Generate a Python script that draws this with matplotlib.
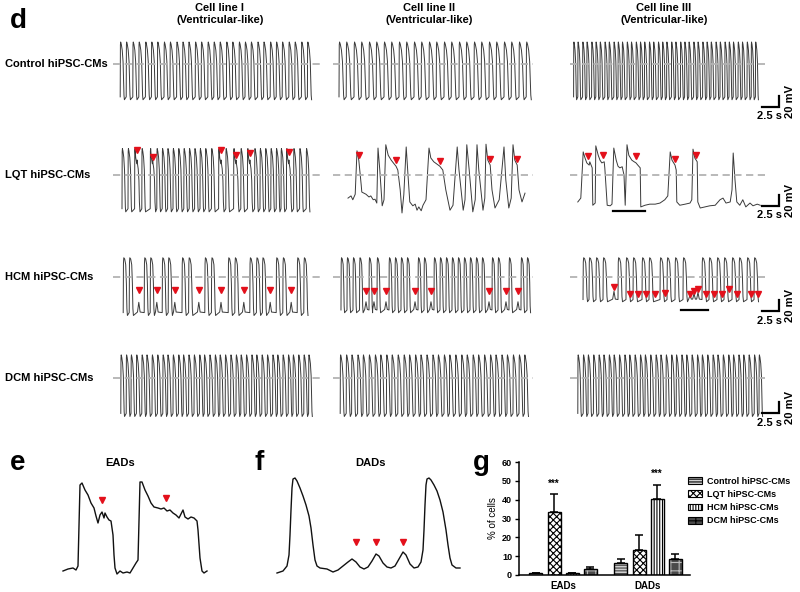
import matplotlib
matplotlib.use('Agg')
import matplotlib.pyplot as plt
import matplotlib.patches as mpatches
import numpy as np

plt.rcParams['font.family'] = ['Liberation Sans', 'DejaVu Sans']
plt.rcParams['font.weight'] = 'bold'
plt.rcParams['hatch.linewidth'] = 0.8

# Layout on the 800 x 592 canvas (pixels)
W, H = 800, 592
ROW_Y = [64, 175, 277, 378]                      # dashed reference line per row
COL_X = [(113, 320), (333, 533), (570, 767)]
PX_S, PX_MV = 6.0, 0.55                          # 2.5 s = 15 px, 20 mV = 11 px

TRACE = '#3a3a3a'
DASH = '#b3b3b3'
RED = '#e3101b'

ROW_LABELS = ['Control hiPSC-CMs', 'LQT hiPSC-CMs', 'HCM hiPSC-CMs', 'DCM hiPSC-CMs']
COL_TITLES = ['Cell line I\n(Ventricular-like)', 'Cell line II\n(Ventricular-like)',
              'Cell line III\n(Ventricular-like)']

# AP shapes: time in units of APD, voltage as fraction of [bottom, top]
AP_SHAPE = ([0, 0.05, 0.11, 0.26, 0.48, 0.68, 0.81, 0.9, 1.0],
            [0.05, 0.95, 1.0, 0.96, 0.86, 0.66, 0.33, 0.08, 0.0])
HCM_SHAPE = ([0, 0.06, 0.14, 0.35, 0.6, 0.76, 0.88, 1.0],
             [0.05, 0.9, 1.0, 0.98, 0.88, 0.55, 0.12, 0.0])
EAD_SHAPE = ([0, 0.03, 0.08, 0.18, 0.28, 0.36, 0.42, 0.48, 0.6, 0.72, 0.8, 0.9],
             [0.05, 0.96, 1.0, 0.86, 0.8, 0.76, 0.82, 0.76, 0.68, 0.5, 0.15, 0.0])

# --- beat onsets (s) ---
CTRL_I = [1.2, 2.2, 3.3, 4.3, 5.4, 6.4, 7.4, 8.5, 9.5, 10.6, 11.6, 12.6, 13.7, 14.7, 15.8,
          16.8, 17.8, 18.9, 19.9, 21.0, 22.0, 23.0, 24.1, 25.1, 26.2, 27.2, 28.2, 29.3,
          30.3, 31.4, 32.4]
CTRL_II = [1.0, 2.2, 3.5, 4.7, 6.0, 7.2, 8.5, 9.7, 11.0, 12.2, 13.5, 14.7, 16.0, 17.2,
           18.5, 19.7, 21.0, 22.2, 23.5, 24.7, 26.0, 27.2, 28.5, 29.7, 31.0, 32.2]
CTRL_III = [0.6, 1.3, 2.1, 2.8, 3.6, 4.3, 5.0, 5.8, 6.5, 7.3, 8.0, 8.7, 9.5, 10.2, 11.0,
            11.7, 12.4, 13.2, 13.9, 14.7, 15.4, 16.1, 16.9, 17.6, 18.4, 19.1, 19.8, 20.6,
            21.3, 22.1, 22.8, 23.5, 24.3, 25.0, 25.8, 26.5, 27.2, 28.0, 28.7, 29.5, 30.2, 30.9]

LQT_I = [1.5, 2.5, 4.8, 7.3, 8.2, 9.1, 10.0, 10.9, 11.8, 12.7, 13.6, 14.5, 15.4, 16.4,
         18.8, 21.3, 23.6, 24.5, 25.4, 26.3, 27.2, 28.0, 30.1, 31.1, 32.2]
LQT_I_EAD = [3.6, 6.2, 17.6, 20.1, 22.4, 28.9]
LQT_I_MARK = [(4.0, 45), (6.7, 33), (18.0, 45), (20.5, 36), (22.8, 40), (29.3, 42)]

LQT_II_T = [2.5, 3.0, 3.3, 3.7, 4.0, 4.3, 4.7, 4.8, 5.5, 6.0, 6.3, 6.7, 7.0, 7.3, 7.5, 7.8,
            8.2, 8.5, 8.8, 9.2, 9.7, 10.2, 10.5, 10.8, 11.2, 11.5, 11.8, 12.2, 12.5, 12.8,
            13.3, 13.7, 14.0, 14.3, 14.7, 15.0, 15.5, 16.0, 16.3, 16.8, 17.3, 17.8, 18.3,
            18.8, 19.5, 20.0, 20.7, 21.0, 21.7, 22.0, 22.3, 22.7, 23.3, 23.7, 24.0, 24.3,
            25.0, 25.3, 25.5, 25.8, 26.2, 26.5, 27.0, 27.7, 28.5, 28.8, 29.3, 29.7, 30.0,
            30.3, 30.7, 31.0, 31.5, 32.0]
LQT_II_V = [-42, -38, -45, -35, 44, 27, -18, -31, -35, -40, -38, -45, -44, -51, 49, 9,
            -56, -45, 55, 36, 27, 20, 16, 9, -27, -69, -36, 51, 0, -49,
            -56, -53, -64, -58, -65, -55, -45, 49, 31, 24, 20, 16, 9,
            -27, -64, -55, 51, 9, -64, -45, 55, 9, -67, -45, 55, 9,
            -64, -42, 56, 27, 18, -27, -60, -45, 51, -9, -60, -42, 55,
            27, 18, -27, -49, -33]
LQT_II_MARK = [(4.4, 36), (10.5, 28), (17.8, 26), (26.2, 29), (30.7, 29)]

LQT_III_T = [1.3, 1.8, 2.2, 2.5, 2.8, 3.2, 3.3, 3.7, 3.8, 4.2, 4.3, 4.7, 5.0, 5.3, 5.7,
             5.8, 6.2, 6.7, 7.0, 7.3, 7.7, 8.0, 8.3, 8.7, 9.0, 9.2, 9.5, 9.8, 10.3, 10.7,
             11.0, 11.3, 11.7, 11.8, 12.5, 13.3, 14.2, 15.0, 15.8, 16.3, 16.7, 17.0, 17.5,
             17.7, 17.8, 18.3, 19.2, 20.0, 20.3, 20.5, 20.8, 21.2, 21.3, 21.7, 22.5, 23.3,
             24.2, 25.0, 25.5, 26.0, 26.7, 27.0, 27.2, 27.5, 27.8, 28.3, 28.8, 29.3, 30.0,
             30.5, 31.2, 31.7]
LQT_III_V = [-49, -42, 42, 31, 22, 18, 24, 13, -55, -51, 53, 36, 27, 22, 24,
             13, -55, -56, -53, 49, 27, 16, 13, 15, 0, -55, 55, 36, 27, 24,
             22, 18, 13, -58, -55, -53, -53, -51, -45, -38, 42, 27, 18,
             9, -49, -55, -53, -51, -45, 47, 31, 24, -49, -60, -58, -56,
             -55, -45, -42, -51, -49, -27, 40, -9, -49, -55, -45, -58, -51,
             -56, -53, -55]
LQT_III_MARK = [(3.0, 34), (5.5, 36), (11.0, 34), (17.5, 30), (21.0, 36)]
LQT_III_SPAN = [7.2, 12.5, -65]

HCM_I = [1.7, 2.7, 5.2, 6.2, 8.2, 9.2, 11.5, 12.6, 15.3, 16.4, 19.2, 20.3, 22.8, 23.9,
         24.9, 27.2, 28.3, 30.7, 31.8]
HCM_I_DAD = [4.3, 7.3, 10.3, 14.3, 18.0, 21.8, 26.2, 29.7]
HCM_II = [1.33, 2.33, 3.33, 4.42, 6.0, 7.33, 9.33, 10.33, 11.33, 12.33, 14.17, 15.17,
          16.83, 17.83, 18.83, 19.83, 20.83, 21.83, 22.83, 23.83, 24.83, 26.5, 27.5,
          29.33, 31.33, 32.33]
HCM_II_DAD = [5.5, 6.83, 8.83, 13.67, 16.33, 26.0, 28.83, 30.83]
HCM_III = [2.17, 3.17, 4.33, 5.5, 8.0, 9.33, 10.5, 12.0, 13.17, 15.0, 16.17, 17.5, 18.83,
           22.0, 23.17, 24.5, 25.67, 27.0, 28.17, 29.5, 30.67]
HCM_III_DAD = [(7.33, -26), (20.0, -33), (20.67, -30), (21.33, -28)]
HCM_III_MARK = [(7.33, -18), (10.0, -31), (11.33, -31), (12.67, -31), (14.17, -31),
                (15.83, -29), (20.0, -31), (20.67, -25), (21.33, -22), (22.67, -31),
                (24.0, -31), (25.33, -31), (26.5, -22), (27.83, -31), (30.17, -31),
                (31.33, -31)]
HCM_III_SPAN = [18.5, 23.0, -60]

DCM_I = [1.3, 2.2, 3.0, 3.9, 4.8, 5.6, 6.5, 7.4, 8.3, 9.1, 10.0, 10.9, 11.7, 12.6, 13.5,
         14.4, 15.2, 16.1, 17.0, 17.8, 18.7, 19.6, 20.5, 21.3, 22.2, 23.1, 23.9, 24.8,
         25.7, 26.6, 27.4, 28.3, 29.2, 30.0, 30.9, 31.8, 32.6]
DCM_II = [1.2, 2.2, 3.1, 4.1, 5.0, 6.0, 7.0, 7.9, 8.9, 9.8, 10.8, 11.8, 12.7, 13.7, 14.6,
          15.6, 16.6, 17.5, 18.5, 19.4, 20.4, 21.4, 22.3, 23.3, 24.2, 25.2, 26.2, 27.1,
          28.1, 29.0, 30.0, 31.0, 31.9]
DCM_III = [1.3, 2.2, 3.0, 3.9, 4.8, 5.6, 6.5, 7.3, 8.2, 9.1, 9.9, 10.8, 11.7, 12.5, 13.4,
           14.3, 15.1, 16.0, 16.9, 17.7, 18.6, 19.4, 20.3, 21.2, 22.0, 22.9, 23.8, 24.6,
           25.5, 26.4, 27.2, 28.1, 28.9, 29.8, 30.7, 31.5]

SCALE_MV = [-78, -56, -62, -64]   # level of the 2.5 s bar in each row

# --- panels e / f (time s, mV) ---
EAD_T = [0.08, 0.13, 0.18, 0.21, 0.23, 0.25, 0.27, 0.30, 0.33, 0.36, 0.39, 0.41, 0.43,
         0.45, 0.47, 0.49, 0.50, 0.52, 0.54, 0.56, 0.58, 0.59, 0.60, 0.62, 0.65, 0.68,
         0.72, 0.75, 0.78, 0.81, 0.83, 0.85, 0.87, 0.90, 0.93, 0.96, 0.99, 1.03, 1.06,
         1.09, 1.12, 1.15, 1.18, 1.21, 1.24, 1.26, 1.28, 1.30, 1.33, 1.36, 1.39, 1.42,
         1.43, 1.45, 1.47, 1.49, 1.52]
EAD_V = [-71, -69, -68, -70, -66, 15, 17, 10, 5, -3, -8, -16, -23,
         -15, -12, -18, -13, -17, -20, -21, -35, -55, -68, -74, -71, -73,
         -72, -73, -68, -63, -60, 18, 18, 10, 4, -3, -7, -8, -9,
         -8, -11, -10, -13, -15, -18, -14, -10, -17, -19, -17, -18, -21,
         -30, -58, -71, -73, -71]
EAD_MARK = [(0.47, 0), (1.11, 2)]

DAD_T = [0.07, 0.13, 0.17, 0.19, 0.20, 0.21, 0.22, 0.23, 0.25, 0.27, 0.30, 0.33, 0.36,
         0.39, 0.41, 0.43, 0.45, 0.47, 0.50, 0.57, 0.63, 0.68, 0.73, 0.78, 0.82, 0.86,
         0.90, 0.94, 0.98, 1.02, 1.06, 1.09, 1.13, 1.17, 1.21, 1.25, 1.29, 1.33, 1.36,
         1.40, 1.44, 1.48, 1.51, 1.53, 1.54, 1.55, 1.56, 1.57, 1.59, 1.61, 1.64, 1.67,
         1.70, 1.73, 1.76, 1.78, 1.80, 1.82, 1.86, 1.90]
DAD_V = [-73, -71, -66, -55, -35, -10, 12, 21, 22, 19, 12, 4, -5,
         -16, -28, -45, -60, -66, -68, -69, -72, -70, -66, -62, -59, -62,
         -67, -69, -67, -61, -54, -56, -63, -67, -68, -66, -59, -52, -55,
         -64, -68, -67, -62, -50, -30, -5, 15, 21, 22, 20, 15, 9,
         0, -12, -30, -45, -58, -65, -68, -68]
DAD_MARK = [(0.86, -42), (1.06, -42), (1.33, -42)]

# --- panel g ---
GROUPS = ['EADs', 'DADs']
SERIES = ['Control hiPSC-CMs', 'LQT hiPSC-CMs', 'HCM hiPSC-CMs', 'DCM hiPSC-CMs']
EADS_MEAN = [0.8, 33.5, 0.8, 3.0]
EADS_SEM = [0.3, 9.5, 0.2, 1.5]
DADS_MEAN = [6.3, 13.5, 40.5, 8.7]
DADS_SEM = [2.0, 8.0, 7.5, 2.7]
STARS = [(1, 0, 45.5), (2, 1, 51.0)]   # (series, group, height)


def px_axes(fig, left, top, right, bottom):
    return fig.add_axes([left / W, 1 - bottom / H, (right - left) / W, (bottom - top) / H])


def build(groups, top, bottom, dads=()):
    """Place AP shapes at each onset; add small DAD bumps in diastole."""
    pts = []
    for onsets, apd, (st, sv) in groups:
        for t0 in onsets:
            pts += [(t0 + a * apd, bottom + b * (top - bottom)) for a, b in zip(st, sv)]
    base = bottom + 0.06 * (top - bottom)
    for td, peak in dads:
        pts += [(td - 0.22, base), (td, peak), (td + 0.22, base)]
    pts.sort()
    t, v = zip(*pts)
    return np.array(t), np.array(v)


traces = {
    (0, 0): (build([(CTRL_I, 0.7, AP_SHAPE)], 40, -65), []),
    (0, 1): (build([(CTRL_II, 0.85, AP_SHAPE)], 40, -65), []),
    (0, 2): (build([(CTRL_III, 0.5, AP_SHAPE)], 40, -65), []),
    (1, 0): (build([(LQT_I, 0.62, AP_SHAPE), (LQT_I_EAD, 1.0, EAD_SHAPE)], 48, -67), LQT_I_MARK),
    (1, 1): ((np.array(LQT_II_T), np.array(LQT_II_V)), LQT_II_MARK),
    (1, 2): ((np.array(LQT_III_T), np.array(LQT_III_V)), LQT_III_MARK),
    (2, 0): (build([(HCM_I, 0.7, HCM_SHAPE)], 35, -70, [(d, -46) for d in HCM_I_DAD]),
             [(d, -24) for d in HCM_I_DAD]),
    (2, 1): (build([(HCM_II, 0.6, HCM_SHAPE)], 35, -65, [(d, -45) for d in HCM_II_DAD]),
             [(d, -25) for d in HCM_II_DAD]),
    (2, 2): (build([(HCM_III, 0.75, HCM_SHAPE)], 35, -45, HCM_III_DAD), HCM_III_MARK),
    (3, 0): (build([(DCM_I, 0.62, AP_SHAPE)], 42, -70), []),
    (3, 1): (build([(DCM_II, 0.68, AP_SHAPE)], 42, -70), []),
    (3, 2): (build([(DCM_III, 0.6, AP_SHAPE)], 42, -70), []),
}

fig = plt.figure(figsize=(8, 5.92), dpi=100)

# ---- panel d ----
fig.text(10 / W, 1 - 28 / H, 'd', fontsize=20, va='baseline')
for c, (x0, x1) in enumerate(COL_X):
    fig.text((x0 + x1) / 2 / W + (0.004 if c == 0 else -0.005 if c == 1 else -0.006),
             1 - 3 / H, COL_TITLES[c], ha='center', va='top', fontsize=8, linespacing=1.3)

for r, y0 in enumerate(ROW_Y):
    fig.text(5 / W, 1 - y0 / H, ROW_LABELS[r], va='center', fontsize=8)
    for c, (x0, x1) in enumerate(COL_X):
        ax = px_axes(fig, x0, y0 - 70, x1, y0 + 70)
        ax.set_xlim(0, (x1 - x0) / PX_S)
        ax.set_ylim(-70 / PX_MV, 70 / PX_MV)
        ax.axis('off')
        (t, v), marks = traces[(r, c)]
        ax.plot(t, v, color=TRACE, lw=0.7, solid_joinstyle='round')
        ax.axhline(0, color=DASH, lw=1.3, ls=(0, (4, 2.5)), zorder=3)
        if marks:
            mt, mv = zip(*marks)
            ax.plot(mt, mv, 'v', color=RED, ms=4.5, mec=RED, zorder=4, clip_on=False)
        if c == 2:
            lvl = SCALE_MV[r]
            ax.plot([32.0, 34.5], [lvl, lvl], color='k', lw=1.6, clip_on=False)
            ax.plot([34.85, 34.85], [lvl, lvl + 20], color='k', lw=1.6, clip_on=False)
            ax.text(36.7, lvl + 10, '20 mV', rotation=90, ha='center', va='center',
                    fontsize=8, clip_on=False)
            ax.text(33.25, lvl - 8, '2.5 s', ha='center', va='top', fontsize=8, clip_on=False)
            span = LQT_III_SPAN if r == 1 else HCM_III_SPAN if r == 2 else None
            if span:
                ax.plot(span[:2], [span[2], span[2]], color='k', lw=1.6)

# ---- panel e ----
fig.text(10 / W, 1 - 470 / H, 'e', fontsize=20, va='baseline')
fig.text(120 / W, 1 - 463 / H, 'EADs', ha='center', va='center', fontsize=8)
ax = px_axes(fig, 55, 470, 215, 580)
ax.set_xlim(0, 1.6)
ax.set_ylim(-80, 30)
ax.axis('off')
ax.plot(EAD_T, EAD_V, color='#111111', lw=1.0)
mt, mv = zip(*EAD_MARK)
ax.plot(mt, mv, 'v', color=RED, ms=4.5, mec=RED)

# ---- panel f ----
fig.text(255 / W, 1 - 470 / H, 'f', fontsize=20, va='baseline')
fig.text(371 / W, 1 - 463 / H, 'DADs', ha='center', va='center', fontsize=8)
ax = px_axes(fig, 270, 470, 465, 580)
ax.set_xlim(0, 1.95)
ax.set_ylim(-80, 30)
ax.axis('off')
ax.plot(DAD_T, DAD_V, color='#111111', lw=1.0)
mt, mv = zip(*DAD_MARK)
ax.plot(mt, mv, 'v', color=RED, ms=4.5, mec=RED)

# ---- panel g ----
fig.text(473 / W, 1 - 470 / H, 'g', fontsize=20, va='baseline')
ax = px_axes(fig, 519, 462, 690, 575)
offsets = [-0.318, -0.106, 0.106, 0.318]
width = 0.153
bar_styles = [('#d0d0d0', '------', '#444444'),
              ('white', 'xxxxx', 'black'),
              ('white', '||||||', 'black'),
              ('#4a4a4a', '++', '#bbbbbb')]
means = np.array([EADS_MEAN, DADS_MEAN]).T
sems = np.array([EADS_SEM, DADS_SEM]).T
handles = []
for i, name in enumerate(SERIES):
    fc, hatch, hc = bar_styles[i]
    xs = np.arange(len(GROUPS)) + offsets[i]
    ax.bar(xs, means[i], width, color=fc, hatch=hatch, edgecolor=hc, linewidth=0)
    ax.bar(xs, means[i], width, fill=False, edgecolor='black', linewidth=1.0)
    ax.errorbar(xs, means[i], yerr=[np.zeros(2), sems[i]], fmt='none', ecolor='black',
                elinewidth=1.1, capsize=3, capthick=1.1)
    handles.append(mpatches.Patch(facecolor=fc, hatch=hatch, edgecolor='black', lw=0.8))
for s, g, h in STARS:
    ax.text(g + offsets[s], h, '***', ha='center', va='bottom', fontsize=7)

ax.set_xlim(-0.518, 1.494)
ax.set_ylim(0, 60)
ax.set_yticks(range(0, 61, 10))
ax.set_xticks(range(len(GROUPS)))
ax.set_xticklabels(GROUPS, fontsize=7)
ax.tick_params(axis='x', length=0, pad=4)
ax.tick_params(axis='y', labelsize=6.5, length=3, width=1, pad=2)
ax.set_ylabel('% of cells', fontsize=7, labelpad=3)
for side in ['top', 'right']:
    ax.spines[side].set_visible(False)
for side in ['left', 'bottom']:
    ax.spines[side].set_linewidth(1.1)

fig.legend(handles, SERIES, loc='upper left', bbox_to_anchor=(688 / W, 1 - 477 / H),
           frameon=False, fontsize=6.5, handlelength=1.5, handleheight=0.8,
           labelspacing=0.45, handletextpad=0.6, borderaxespad=0, borderpad=0)

fig.savefig('out.png', dpi=100, facecolor='white')
